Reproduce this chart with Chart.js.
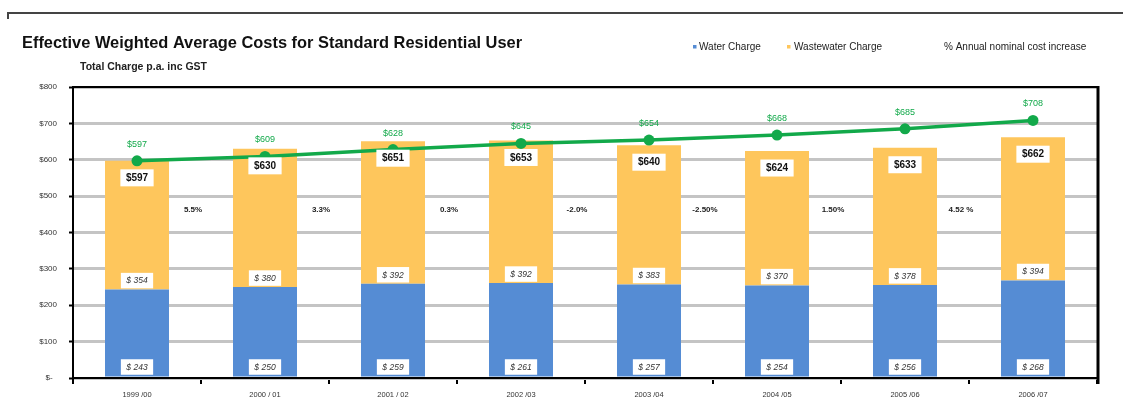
<!DOCTYPE html>
<html><head><meta charset="utf-8">
<script src="https://cdn.jsdelivr.net/npm/chart.js@4/dist/chart.umd.min.js"></script>
<style>html,body{margin:0;padding:0;background:#fff;}#wrap{width:1123px;height:409px;position:relative;}</style>
</head><body><div id="wrap"><canvas id="c" width="1123" height="409"></canvas></div>
<script>
const categories = ["1999 /00","2000 / 01","2001 / 02","2002 /03","2003 /04","2004 /05","2005 /06","2006 /07"];
const waterCharge = [243,250,259,261,257,254,256,268];
const wastewaterLabels = [354,380,392,392,383,370,378,394];
const totalCharge = [597,630,651,653,640,624,633,662];
const annualCost = [597,609,628,645,654,668,685,708];
const pctIncrease = ["5.5%","3.3%","0.3%","-2.0%","-2.50%","1.50%","4.52 %"];
const yTicks = [0,100,200,300,400,500,600,700,800];
const titleText = "Effective Weighted Average Costs for Standard Residential User";
const subtitleText = "Total Charge p.a. inc GST";
const seriesNames = ["Water Charge","Wastewater Charge","% Annual nominal cost increase"];

const wastewaterStack = totalCharge.map((t,i)=>t-waterCharge[i]);
const BLUE = '#558cd4', ORANGE = '#fec65c', GREEN = '#12a94a';
const FONT = '"Liberation Sans", Arial, sans-serif';

function box(ctx, text, x, y, font, color, pad, bg){
  ctx.font = font;
  const w = ctx.measureText(text).width;
  const h = parseFloat(font.match(/([\d.]+)px/)[1]) + pad*2;
  if (bg){ ctx.fillStyle = bg; ctx.fillRect(x - w/2 - pad - 2, y - h/2, w + 2*pad + 4, h); }
  ctx.fillStyle = color; ctx.textAlign='center'; ctx.textBaseline='middle';
  ctx.fillText(text, x, y+0.5);
}

const decor = {
  id:'decor',
  beforeDraw(chart){
    const ctx = chart.ctx; ctx.save();
    ctx.fillStyle='#fff'; ctx.fillRect(0,0,chart.width,chart.height);
    ctx.strokeStyle='#444'; ctx.lineWidth=2;
    ctx.beginPath(); ctx.moveTo(8,19); ctx.lineTo(8,13); ctx.lineTo(1123,13); ctx.stroke();
    ctx.fillStyle='#111'; ctx.textBaseline='middle'; ctx.textAlign='left';
    ctx.font='bold 16.4px '+FONT; ctx.fillText(titleText, 22, 43);
    ctx.font='bold 10.5px '+FONT; ctx.fillStyle='#222'; ctx.fillText(subtitleText, 80, 67);
    ctx.font='10px '+FONT;
    ctx.fillStyle=BLUE; ctx.fillRect(693,45,3.5,3.5);
    ctx.fillStyle='#222'; ctx.fillText(seriesNames[0], 699, 47);
    ctx.fillStyle=ORANGE; ctx.fillRect(787,45,3.5,3.5);
    ctx.fillStyle='#222'; ctx.fillText(seriesNames[1], 794, 47);
    ctx.fillText(seriesNames[2], 944, 47);
    ctx.restore();
  },
  afterDatasetsDraw(chart){
    const ctx = chart.ctx; ctx.save();
    const a = chart.chartArea;
    const water = chart.getDatasetMeta(1).data, waste = chart.getDatasetMeta(2).data, line = chart.getDatasetMeta(0).data;
    const ys = chart.scales.y, xs = chart.scales.x;
    for (let i=0;i<categories.length;i++){
      const x = water[i].x;
      box(ctx, '$ '+waterCharge[i], x, ys.getPixelForValue(0)-11, 'italic 8.5px '+FONT, '#333', 3.5, '#fff');
      box(ctx, '$ '+wastewaterLabels[i], x, water[i].y-9, 'italic 8.5px '+FONT, '#333', 3.5, '#fff');
      box(ctx, '$'+totalCharge[i], x, waste[i].y+17, 'bold 10px '+FONT, '#111', 3.5, '#fff');
      box(ctx, '$'+annualCost[i], line[i].x, line[i].y-17, '9px '+FONT, GREEN, 0, null);
    }
    for (let i=0;i<pctIncrease.length;i++){
      const x = (xs.getPixelForValue(i)+xs.getPixelForValue(i+1))/2 - 8;
      box(ctx, pctIncrease[i], x, ys.getPixelForValue(465), 'bold 8px '+FONT, '#222', 0, null);
    }
    ctx.strokeStyle='#000'; ctx.lineWidth=2;
    ctx.beginPath(); ctx.moveTo(a.left, a.top); ctx.lineTo(a.right+1, a.top); ctx.stroke();
    ctx.lineWidth=3;
    ctx.beginPath(); ctx.moveTo(a.right+1, a.top-1); ctx.lineTo(a.right+1, a.bottom+6); ctx.stroke();
    ctx.restore();
  }
};

new Chart(document.getElementById('c'), {
  data:{
    labels: categories,
    datasets:[
      {type:'line', label:seriesNames[2], data:annualCost, borderColor:GREEN, backgroundColor:GREEN,
       borderWidth:3.5, pointRadius:5.5, pointBackgroundColor:GREEN, pointBorderWidth:0, stack:'line', order:0, tension:0},
      {type:'bar', label:seriesNames[0], data:waterCharge, backgroundColor:BLUE, stack:'s', order:1,
       categoryPercentage:1, barPercentage:0.5},
      {type:'bar', label:seriesNames[1], data:wastewaterStack, backgroundColor:ORANGE, stack:'s', order:1,
       categoryPercentage:1, barPercentage:0.5}
    ]
  },
  options:{
    responsive:false, animation:false, devicePixelRatio:1,
    layout:{padding:{top:87,right:26,left:0,bottom:0}},
    plugins:{legend:{display:false}, tooltip:{enabled:false}, title:{display:false}},
    scales:{
      x:{stacked:true, offset:true,
         grid:{offset:true, drawOnChartArea:false, drawTicks:true, tickLength:6, color:'#000', lineWidth:2},
         border:{color:'#000', width:2},
         ticks:{font:{family:FONT,size:7.5}, color:'#333', padding:6, maxRotation:0},
         afterFit(s){ s.height = 31; }},
      y:{stacked:true, min:0, max:800,
         afterBuildTicks(s){ s.ticks = yTicks.map(v=>({value:v})); },
         ticks:{font:{family:FONT,size:8}, color:'#333', padding:12,
                callback:v=> v===0 ? '$-  ' : '$'+v},
         grid:{color:'#c4c4c4', lineWidth:3, tickLength:4, tickColor:'#000', tickWidth:2},
         border:{color:'#000', width:2},
         afterFit(s){ s.width = 73; }}
    }
  },
  plugins:[decor]
});
</script></body></html>
